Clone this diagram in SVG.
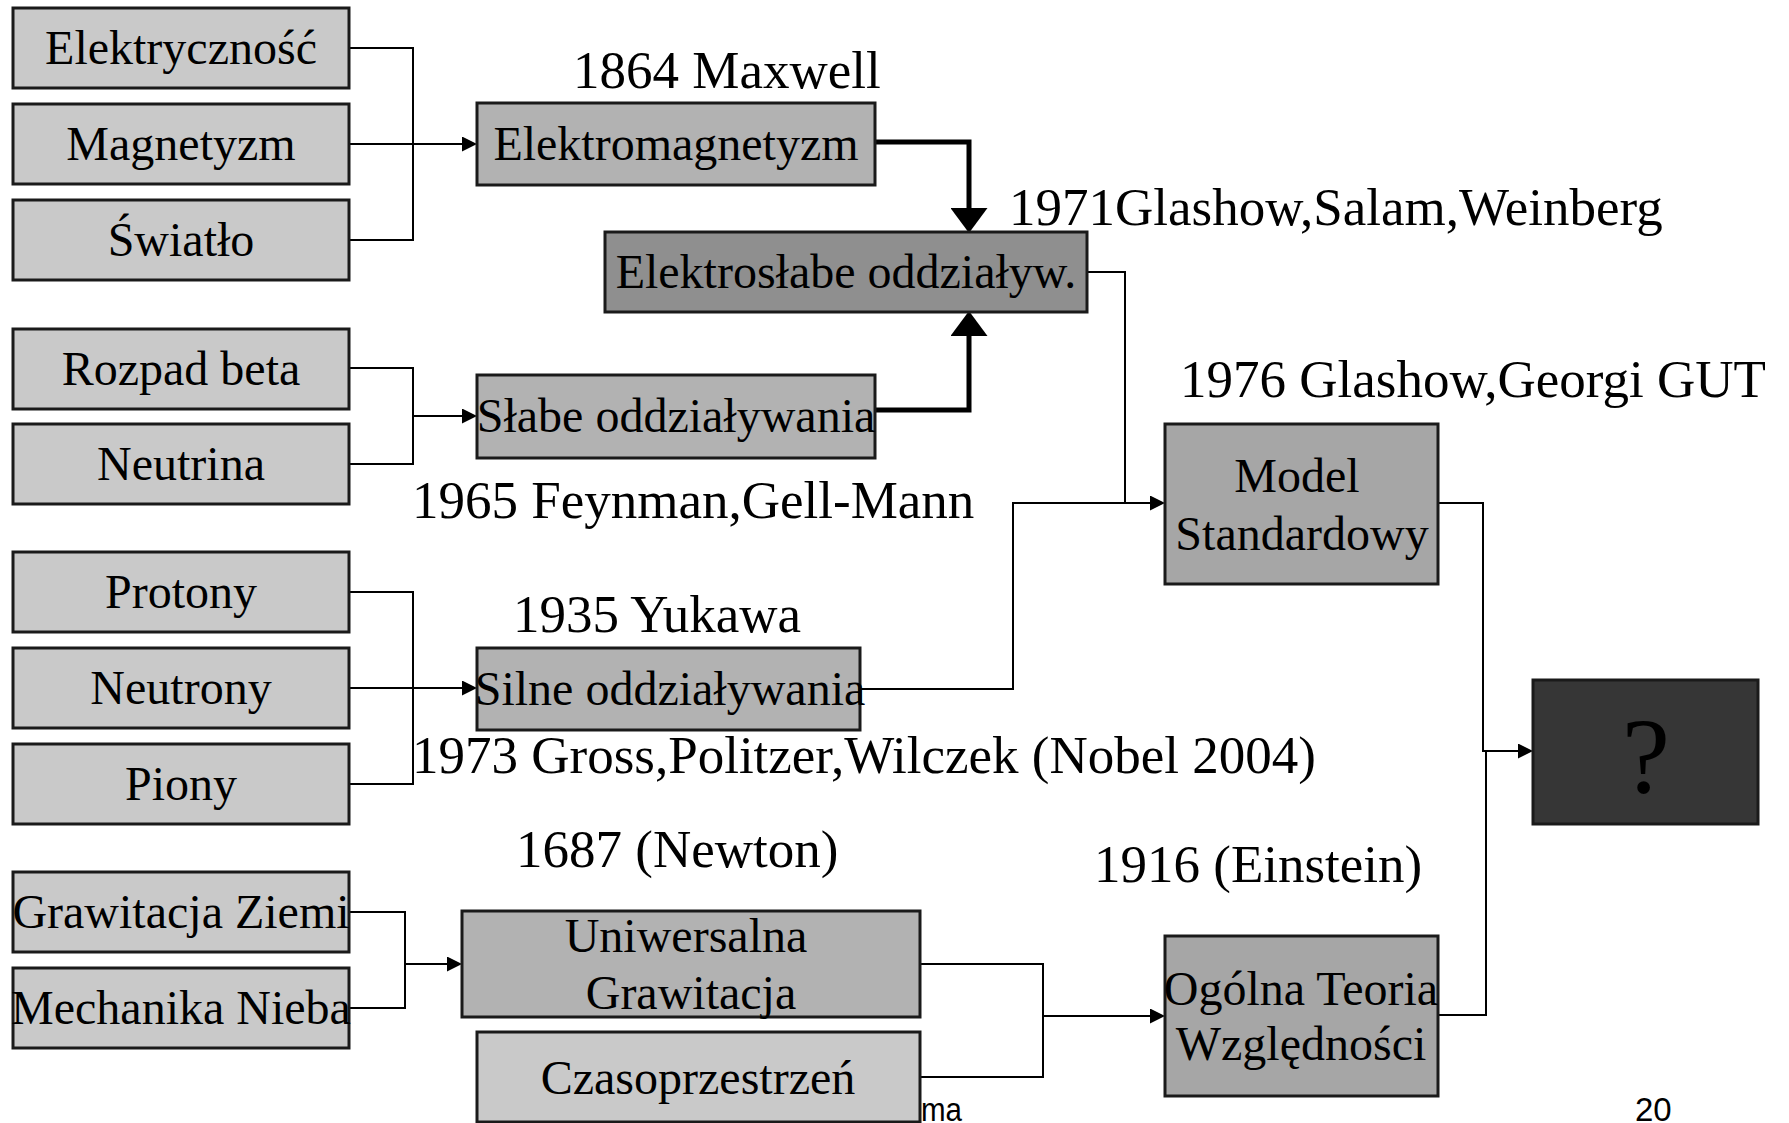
<svg xmlns="http://www.w3.org/2000/svg" width="1789" height="1123" viewBox="0 0 1789 1123">
<defs>
<style>
.box{stroke:#1a1a1a;stroke-width:3}
.f1{fill:#c9c9c9}
.f2{fill:#b2b2b2}
.f3{fill:#8f8f8f}
.f4{fill:#a6a6a6}
.f5{fill:#363636}
text{font-family:"Liberation Serif","Times New Roman",serif;fill:#000}
.t{font-size:48px;text-anchor:middle}
.lbl{font-size:53px}
.sans{font-family:"Liberation Sans",Arial,sans-serif;font-size:33px}
.c{fill:none;stroke:#000;stroke-width:2}
.ck{fill:none;stroke:#000;stroke-width:5}
</style>
<marker id="a" viewBox="0 0 15 15" refX="0" refY="7.5" markerWidth="15" markerHeight="15" markerUnits="userSpaceOnUse" orient="auto">
<path d="M0,0 L15,7.5 L0,15 z" fill="#000"/>
</marker>
<marker id="ak" viewBox="0 0 25 37" refX="0" refY="18.5" markerWidth="25" markerHeight="37" markerUnits="userSpaceOnUse" orient="auto">
<path d="M0,0 L25,18.5 L0,37 z" fill="#000"/>
</marker>
</defs>
<rect width="1789" height="1123" fill="#fff"/>

<text class="sans" x="921" y="1121" textLength="41" lengthAdjust="spacingAndGlyphs">ma</text>

<g id="connectors">
<path class="c" d="M349,48 H413 V240 H349"/>
<path class="c" d="M349,144 H462" marker-end="url(#a)"/>
<path class="c" d="M349,368 H413 V464 H349"/>
<path class="c" d="M413,416 H462" marker-end="url(#a)"/>
<path class="c" d="M349,592 H413 V784 H349"/>
<path class="c" d="M349,688 H462" marker-end="url(#a)"/>
<path class="c" d="M349,912 H405 V1008 H349"/>
<path class="c" d="M405,964 H447" marker-end="url(#a)"/>
<path class="ck" d="M875,142 H969 V208" marker-end="url(#ak)"/>
<path class="ck" d="M875,410 H969 V336" marker-end="url(#ak)"/>
<path class="c" d="M1087,272 H1125 V503"/>
<path class="c" d="M860,689 H1013 V503 H1150" marker-end="url(#a)"/>
<path class="c" d="M920,964 H1043 V1077 H920"/>
<path class="c" d="M1043,1016 H1150" marker-end="url(#a)"/>
<path class="c" d="M1438,503 H1483 V751 H1518" marker-end="url(#a)"/>
<path class="c" d="M1438,1015 H1486 V751"/>
</g>

<g id="elektrycznosc"><rect class="box f1" x="13" y="8" width="336" height="80"/><text class="t" x="181" y="64">Elektryczność</text></g>
<g id="magnetyzm"><rect class="box f1" x="13" y="104" width="336" height="80"/><text class="t" x="181" y="160">Magnetyzm</text></g>
<g id="swiatlo"><rect class="box f1" x="13" y="200" width="336" height="80"/><text class="t" x="181" y="256">Światło</text></g>
<g id="rozpad"><rect class="box f1" x="13" y="329" width="336" height="80"/><text class="t" x="181" y="385">Rozpad beta</text></g>
<g id="neutrina"><rect class="box f1" x="13" y="424" width="336" height="80"/><text class="t" x="181" y="480">Neutrina</text></g>
<g id="protony"><rect class="box f1" x="13" y="552" width="336" height="80"/><text class="t" x="181" y="608">Protony</text></g>
<g id="neutrony"><rect class="box f1" x="13" y="648" width="336" height="80"/><text class="t" x="181" y="704">Neutrony</text></g>
<g id="piony"><rect class="box f1" x="13" y="744" width="336" height="80"/><text class="t" x="181" y="800">Piony</text></g>
<g id="grawitacja-ziemi"><rect class="box f1" x="13" y="872" width="336" height="80"/><text class="t" x="181" y="928">Grawitacja Ziemi</text></g>
<g id="mechanika-nieba"><rect class="box f1" x="13" y="968" width="336" height="80"/><text class="t" x="181" y="1024">Mechanika Nieba</text></g>

<g id="elektromagnetyzm"><rect class="box f2" x="477" y="103" width="398" height="82"/><text class="t" x="676" y="160">Elektromagnetyzm</text></g>
<g id="elektroslabe"><rect class="box f3" x="605" y="232" width="482" height="80"/><text class="t" x="846" y="288">Elektrosłabe oddziaływ.</text></g>
<g id="slabe"><rect class="box f2" x="477" y="375" width="398" height="83"/><text class="t" x="676" y="432">Słabe oddziaływania</text></g>
<g id="silne"><rect class="box f2" x="477" y="648" width="383" height="82"/><text class="t" x="670" y="705">Silne oddziaływania</text></g>
<g id="uniwersalna"><rect class="box f2" x="462" y="911" width="458" height="106"/><text class="t" x="686" y="952">Uniwersalna</text><text class="t" x="691" y="1009">Grawitacja</text></g>
<g id="czasoprzestrzen"><rect class="box f1" x="477" y="1032" width="443" height="90"/><text class="t" x="698" y="1094">Czasoprzestrzeń</text></g>
<g id="model"><rect class="box f4" x="1165" y="424" width="273" height="160"/><text class="t" x="1297" y="492">Model</text><text class="t" x="1302" y="550">Standardowy</text></g>
<g id="ogolna"><rect class="box f4" x="1165" y="936" width="273" height="160"/><text class="t" x="1301" y="1005">Ogólna Teoria</text><text class="t" x="1301" y="1060">Względności</text></g>
<g id="unknown"><rect class="box f5" x="1533" y="680" width="225" height="144"/><text x="1646" y="792" style="font-size:108px;text-anchor:middle">?</text></g>

<g id="labels">
<text class="lbl" x="573" y="88">1864 Maxwell</text>
<text class="lbl" x="1009" y="225">1971Glashow,Salam,Weinberg</text>
<text class="lbl" x="1180" y="397">1976 Glashow,Georgi GUT</text>
<text class="lbl" x="412" y="518">1965 Feynman,Gell-Mann</text>
<text class="lbl" x="513" y="632">1935 Yukawa</text>
<text class="lbl" x="412" y="773">1973 Gross,Politzer,Wilczek (Nobel 2004)</text>
<text class="lbl" x="516" y="867">1687 (Newton)</text>
<text class="lbl" x="1094" y="882">1916 (Einstein)</text>
</g>
<text class="sans" x="1635" y="1121">20</text>
</svg>
